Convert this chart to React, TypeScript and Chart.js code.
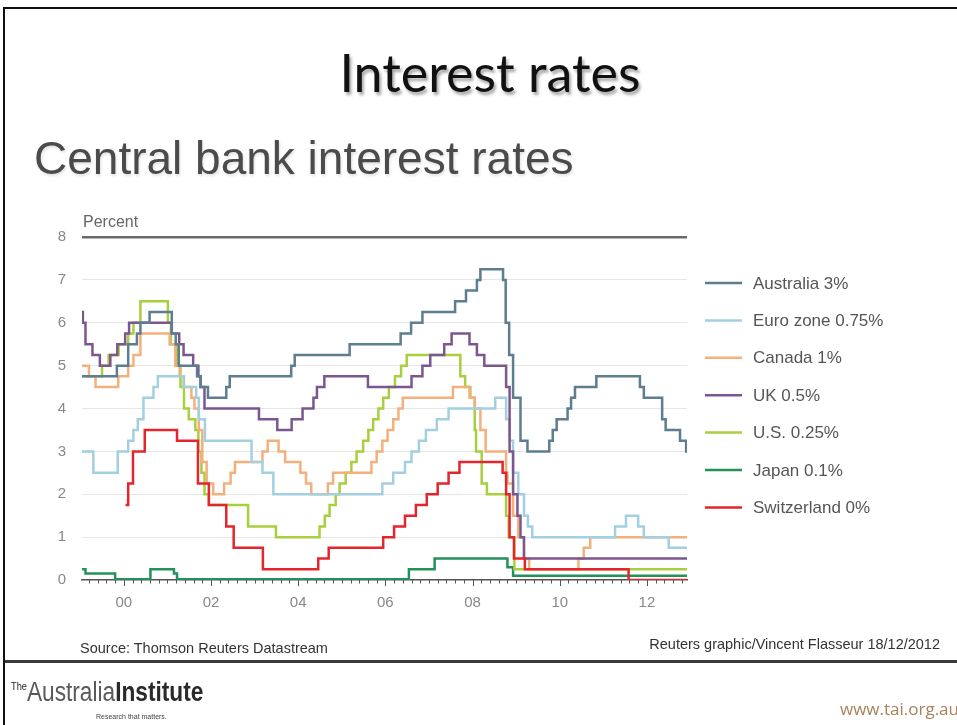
import React, { useEffect, useRef } from 'react';
import { Chart, registerables } from 'chart.js';

Chart.register(...registerables);

// ---------- axis ----------
const X_MIN = 1999.04;
const X_MAX = 2012.92;
const xTickYears = [2000, 2002, 2004, 2006, 2008, 2010, 2012];
const xTickLabels = ['00', '02', '04', '06', '08', '10', '12'];
const yTicks = [0, 1, 2, 3, 4, 5, 6, 7, 8];

// ---------- series ----------
const seriesLabels = ['Australia 3%', 'Euro zone 0.75%', 'Canada 1%', 'UK 0.5%', 'U.S. 0.25%', 'Japan 0.1%', 'Switzerland 0%'];
const seriesColors = ['#5d7d91', '#a3d0e1', '#f4b07c', '#7c568e', '#a8cf3e', '#23915a', '#e3262d'];
const seriesOrder = [1, 3, 4, 2, 5, 6, 0];

const ausDates = [1999.04, 1999.84, 2000.10, 2000.30, 2000.38, 2000.59, 2001.10, 2001.19, 2001.26, 2001.68, 2001.76, 2001.93, 2002.35, 2002.43, 2003.84, 2003.92, 2005.18, 2006.35, 2006.59, 2006.85, 2007.60, 2007.85, 2008.10, 2008.18, 2008.70, 2008.76, 2008.84, 2008.93, 2009.10, 2009.26, 2009.76, 2009.84, 2009.93, 2010.18, 2010.26, 2010.35, 2010.84, 2011.84, 2011.93, 2012.35, 2012.43, 2012.76, 2012.90, 2012.92];
const ausRates = [4.75, 5.0, 5.5, 5.75, 6.0, 6.25, 5.75, 5.5, 5.0, 4.75, 4.5, 4.25, 4.5, 4.75, 5.0, 5.25, 5.5, 5.75, 6.0, 6.25, 6.5, 6.75, 7.0, 7.25, 7.0, 6.0, 5.25, 4.25, 3.25, 3.0, 3.25, 3.5, 3.75, 4.0, 4.25, 4.5, 4.75, 4.5, 4.25, 3.75, 3.5, 3.25, 3.0, 3.0];

const euroDates = [1999.04, 1999.30, 1999.86, 2000.10, 2000.22, 2000.32, 2000.45, 2000.68, 2000.78, 2001.37, 2001.66, 2001.72, 2001.86, 2002.93, 2003.18, 2003.43, 2005.93, 2006.18, 2006.45, 2006.60, 2006.77, 2006.93, 2007.18, 2007.45, 2008.52, 2008.77, 2008.85, 2008.93, 2009.05, 2009.18, 2009.27, 2009.37, 2011.27, 2011.52, 2011.80, 2011.93, 2012.50, 2012.92];
const euroRates = [3.0, 2.5, 3.0, 3.25, 3.5, 3.75, 4.25, 4.5, 4.75, 4.5, 4.25, 3.75, 3.25, 2.75, 2.5, 2.0, 2.25, 2.5, 2.75, 3.0, 3.25, 3.5, 3.75, 4.0, 4.25, 3.75, 3.25, 2.5, 2.0, 1.5, 1.25, 1.0, 1.25, 1.5, 1.25, 1.0, 0.75, 0.75];

const canDates = [1999.04, 1999.20, 1999.35, 1999.87, 2000.10, 2000.22, 2000.38, 2001.05, 2001.18, 2001.28, 2001.38, 2001.55, 2001.62, 2001.72, 2001.80, 2001.90, 2002.05, 2002.30, 2002.45, 2002.55, 2003.18, 2003.30, 2003.55, 2003.70, 2004.05, 2004.18, 2004.30, 2004.68, 2004.80, 2005.68, 2005.80, 2005.93, 2006.05, 2006.18, 2006.30, 2006.40, 2007.55, 2007.93, 2008.05, 2008.18, 2008.30, 2008.77, 2008.80, 2008.93, 2009.05, 2009.18, 2009.30, 2010.43, 2010.55, 2010.70, 2012.92];
const canRates = [5.0, 4.75, 4.5, 4.75, 5.0, 5.25, 5.75, 5.5, 5.0, 4.75, 4.5, 4.25, 4.0, 3.5, 2.75, 2.25, 2.0, 2.25, 2.5, 2.75, 3.0, 3.25, 3.0, 2.75, 2.5, 2.25, 2.0, 2.25, 2.5, 2.75, 3.0, 3.25, 3.5, 3.75, 4.0, 4.25, 4.5, 4.25, 4.0, 3.5, 3.0, 2.5, 2.25, 1.5, 1.0, 0.5, 0.25, 0.5, 0.75, 1.0, 1.0];

const ukDates = [1999.04, 1999.06, 1999.12, 1999.28, 1999.45, 1999.69, 1999.85, 2000.03, 2000.12, 2001.10, 2001.27, 2001.37, 2001.59, 2001.71, 2001.76, 2001.85, 2003.10, 2003.52, 2003.85, 2004.10, 2004.35, 2004.43, 2004.60, 2005.60, 2006.60, 2006.85, 2007.03, 2007.35, 2007.52, 2007.93, 2008.10, 2008.27, 2008.77, 2008.85, 2008.93, 2009.03, 2009.10, 2009.18, 2012.92];
const ukRates = [6.25, 6.0, 5.5, 5.25, 5.0, 5.25, 5.5, 5.75, 6.0, 5.75, 5.5, 5.25, 5.0, 4.75, 4.5, 4.0, 3.75, 3.5, 3.75, 4.0, 4.25, 4.5, 4.75, 4.5, 4.75, 5.0, 5.25, 5.5, 5.75, 5.5, 5.25, 5.0, 4.5, 3.0, 2.0, 1.5, 1.0, 0.5, 0.5];

const usDates = [1999.04, 1999.50, 1999.65, 1999.88, 2000.10, 2000.22, 2000.38, 2001.01, 2001.08, 2001.22, 2001.30, 2001.38, 2001.49, 2001.64, 2001.71, 2001.78, 2001.85, 2001.95, 2002.85, 2003.49, 2004.49, 2004.61, 2004.72, 2004.86, 2004.95, 2005.09, 2005.22, 2005.34, 2005.49, 2005.61, 2005.72, 2005.84, 2005.95, 2006.08, 2006.22, 2006.36, 2006.49, 2007.72, 2007.83, 2007.95, 2008.05, 2008.08, 2008.21, 2008.33, 2008.77, 2008.83, 2008.96, 2012.92];
const usRates = [4.75, 5.0, 5.25, 5.5, 5.75, 6.0, 6.5, 6.0, 5.5, 5.0, 4.5, 4.0, 3.75, 3.5, 3.0, 2.5, 2.0, 1.75, 1.25, 1.0, 1.25, 1.5, 1.75, 2.0, 2.25, 2.5, 2.75, 3.0, 3.25, 3.5, 3.75, 4.0, 4.25, 4.5, 4.75, 5.0, 5.25, 4.75, 4.5, 4.25, 3.5, 3.0, 2.25, 2.0, 1.5, 1.0, 0.25, 0.25];

const japDates = [1999.04, 1999.12, 1999.80, 2000.61, 2001.15, 2001.22, 2006.54, 2007.13, 2008.80, 2008.93, 2012.92];
const japRates = [0.25, 0.15, 0.02, 0.25, 0.15, 0.02, 0.25, 0.5, 0.3, 0.1, 0.1];

const swiDates = [2000.04, 2000.10, 2000.21, 2000.48, 2001.22, 2001.70, 2001.95, 2002.35, 2002.52, 2003.19, 2004.46, 2004.70, 2005.95, 2006.20, 2006.45, 2006.70, 2006.95, 2007.20, 2007.45, 2007.70, 2008.69, 2008.77, 2008.85, 2008.95, 2009.20, 2011.58, 2012.92];
const swiRates = [1.75, 2.25, 3.0, 3.5, 3.25, 2.25, 1.75, 1.25, 0.75, 0.25, 0.5, 0.75, 1.0, 1.25, 1.5, 1.75, 2.0, 2.25, 2.5, 2.75, 2.5, 2.0, 1.0, 0.5, 0.25, 0.0, 0.0];

const seriesDates = [ausDates, euroDates, canDates, ukDates, usDates, japDates, swiDates];
const seriesRates = [ausRates, euroRates, canRates, ukRates, usRates, japRates, swiRates];

const FONT = '"Liberation Sans", Arial, sans-serif';

const decorPlugin = {
  id: 'decor',
  afterDraw(chart: any) {
    const { ctx, chartArea } = chart;
    const xs = chart.scales.x;
    ctx.save();
    // minor / major ticks under the x axis
    ctx.strokeStyle = '#555';
    ctx.lineWidth = 1;
    for (let k = Math.ceil(X_MIN * 5); k <= Math.floor(X_MAX * 5); k++) {
      const v = k / 5;
      const px = Math.round(xs.getPixelForValue(v)) + 0.5;
      const major = k % 10 === 0;
      ctx.beginPath();
      ctx.moveTo(px, chartArea.bottom);
      ctx.lineTo(px, chartArea.bottom + (major ? 6 : 3.5));
      ctx.stroke();
    }
    // "Percent"
    ctx.fillStyle = '#666';
    ctx.font = `16px ${FONT}`;
    ctx.textBaseline = 'middle';
    ctx.textAlign = 'left';
    ctx.fillText('Percent', chartArea.left + 1, chartArea.top - 14);
    // legend
    const lx = chartArea.right + 18;
    const ly0 = chartArea.top + 46;
    const dy = 37.4;
    ctx.font = `17px ${FONT}`;
    seriesLabels.forEach((lab, i) => {
      const y = ly0 + i * dy;
      ctx.strokeStyle = seriesColors[i];
      ctx.lineWidth = 2.5;
      ctx.beginPath();
      ctx.moveTo(lx, y);
      ctx.lineTo(lx + 37, y);
      ctx.stroke();
      ctx.fillStyle = '#555';
      ctx.fillText(lab, lx + 48, y + 1);
    });
    ctx.restore();
  },
};

export default function App() {
  const ref = useRef<HTMLCanvasElement>(null);

  useEffect(() => {
    const datasets = seriesLabels.map((label, i) => ({
      label,
      data: seriesDates[i].map((d, j) => ({ x: d, y: seriesRates[i][j] })),
      borderColor: seriesColors[i],
      backgroundColor: seriesColors[i],
      borderWidth: 2.5,
      stepped: true,
      pointRadius: 0,
      fill: false,
      order: seriesOrder[i],
    }));

    const chart = new Chart(ref.current!, {
      type: 'line',
      data: { datasets },
      plugins: [decorPlugin],
      options: {
        animation: false,
        responsive: false,
        devicePixelRatio: 1,
        layout: { padding: { left: 0, top: 237, right: 270, bottom: 115 } },
        plugins: { legend: { display: false }, tooltip: { enabled: false } },
        scales: {
          x: {
            type: 'linear',
            min: X_MIN,
            max: X_MAX,
            afterBuildTicks: (scale: any) => {
              scale.ticks = xTickYears.map((v) => ({ value: v }));
            },
            afterFit: (scale: any) => {
              scale.height = 30;
            },
            ticks: {
              autoSkip: false,
              maxRotation: 0,
              padding: 14,
              color: '#888',
              font: { family: FONT, size: 15 },
              callback: (v: any) => {
                const i = xTickYears.indexOf(Math.round(Number(v)));
                return i >= 0 ? xTickLabels[i] : '';
              },
            },
            grid: { display: false, drawTicks: false },
            border: { display: true, color: '#555', width: 1.5 },
          },
          y: {
            type: 'linear',
            min: 0,
            max: 8,
            afterBuildTicks: (scale: any) => {
              scale.ticks = yTicks.map((v) => ({ value: v }));
            },
            afterFit: (scale: any) => {
              scale.width = 82;
            },
            ticks: {
              padding: 16,
              color: '#888',
              font: { family: FONT, size: 15 },
            },
            grid: {
              drawTicks: false,
              color: (c: any) => (c.tick && c.tick.value === 8 ? '#6a6a6a' : c.tick && c.tick.value === 0 ? 'rgba(0,0,0,0)' : '#e6e6e6'),
              lineWidth: (c: any) => (c.tick && c.tick.value === 8 ? 2.5 : 1),
            },
            border: { display: false },
          },
        },
      },
    } as any);
    return () => chart.destroy();
  }, []);

  const abs = (s: React.CSSProperties): React.CSSProperties => ({ position: 'absolute', whiteSpace: 'nowrap', lineHeight: 1, margin: 0, ...s });

  return (
    <div style={{ position: 'absolute', left: 0, top: 0, width: 957, height: 725, background: '#fff', overflow: 'hidden' }}>
      {/* frame */}
      <div style={abs({ left: 3, top: 7, width: 960, height: 2, background: '#111' })} />
      <div style={abs({ left: 3, top: 7, width: 2, height: 730, background: '#111' })} />
      <div style={abs({ left: 5, top: 660, width: 960, height: 3, background: '#3a3a3a' })} />

      <canvas ref={ref} width={957} height={725} style={{ position: 'absolute', left: 0, top: 0, width: 957, height: 725 }} />

      <div style={abs({ left: 0, width: 980, top: 46, textAlign: 'center', fontFamily: 'Lato, sans-serif', fontSize: 52, color: '#111', textShadow: '2px 3px 3px rgba(0,0,0,0.35)' })}>
        Interest rates
      </div>
      <div style={abs({ left: 34, top: 135, fontFamily: FONT, fontSize: 46, color: '#4b4b4b', textShadow: '1px 2px 3px rgba(0,0,0,0.12)' })}>
        Central bank interest rates
      </div>

      <div style={abs({ left: 80, top: 641, fontFamily: FONT, fontSize: 14.5, color: '#333' })}>Source: Thomson Reuters Datastream</div>
      <div style={abs({ right: 17, top: 637, fontFamily: FONT, fontSize: 14.5, color: '#333' })}>Reuters graphic/Vincent Flasseur 18/12/2012</div>

      <div style={abs({ left: 11, top: 679, fontFamily: FONT, transform: 'scaleX(0.84)', transformOrigin: 'left top', color: '#222' })}>
        <span style={{ fontSize: 11, verticalAlign: 'top', position: 'relative', top: 2 }}>The</span>
        <span style={{ fontSize: 27, color: '#5a5a5a' }}>Australia</span>
        <span style={{ fontSize: 27, fontWeight: 700, color: '#2a2a2a' }}>Institute</span>
      </div>
      <div style={abs({ left: 96, top: 713, fontFamily: FONT, fontSize: 7, color: '#444' })}>Research that matters.</div>
      <div style={abs({ left: 840, top: 700, fontFamily: '"Open Sans", sans-serif', fontSize: 17, color: '#a88259' })}>www.tai.org.au</div>
    </div>
  );
}
